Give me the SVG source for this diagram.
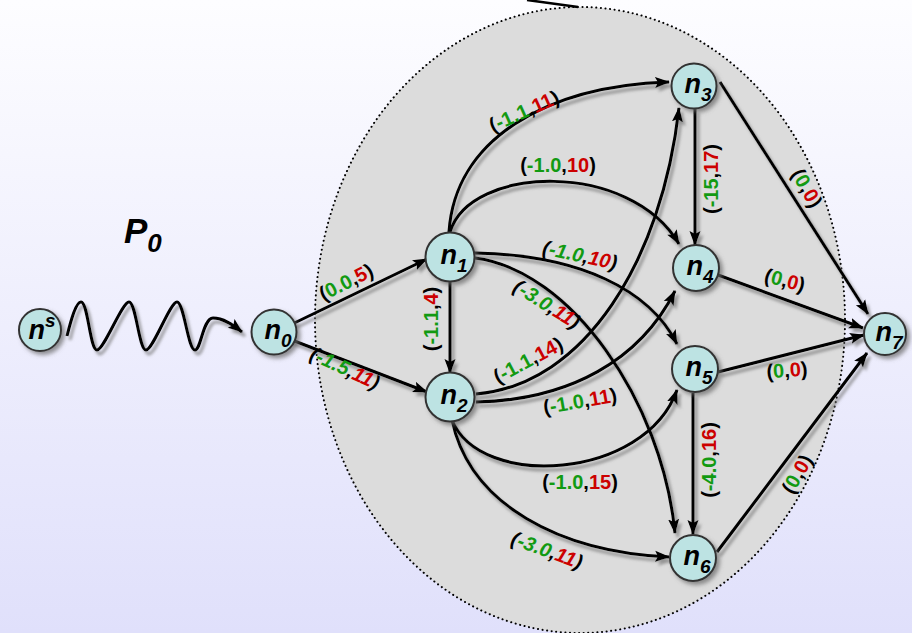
<svg xmlns="http://www.w3.org/2000/svg" width="912" height="633" viewBox="0 0 912 633">
<defs>
<linearGradient id="bg" x1="0" y1="0" x2="0" y2="1">
<stop offset="0" stop-color="#fdfdff"/>
<stop offset="1" stop-color="#e0e0fb"/>
</linearGradient>
<marker id="arr" markerUnits="userSpaceOnUse" markerWidth="16" markerHeight="12" refX="14" refY="6" orient="auto">
<path d="M0,0.5 L15,6 L0,11.5 L3,6 z" fill="#000"/>
</marker>
<filter id="sh" x="-20%" y="-20%" width="140%" height="140%">
<feDropShadow dx="3" dy="4" stdDeviation="1.5" flood-color="#777" flood-opacity="0.7"/>
</filter>
<filter id="nsh" x="-30%" y="-30%" width="160%" height="160%">
<feDropShadow dx="3" dy="3" stdDeviation="2" flood-color="#666" flood-opacity="0.7"/>
</filter>
</defs>
<style>
.node circle{fill:#bde3e3;stroke:#333;stroke-width:2;filter:url(#nsh)}
.node text{font-family:"Liberation Sans",Arial,sans-serif;font-weight:bold;font-style:italic;font-size:27px;fill:#000;text-anchor:middle}
.node .sub{font-size:19px}
.e{fill:none;stroke:#000;stroke-width:3;marker-end:url(#arr)}
.lbl{font-family:"Liberation Sans",Arial,sans-serif;font-weight:bold;font-size:20px;fill:#000;text-anchor:middle}
.it{font-style:italic}
.g{fill:#129a12}
.r{fill:#cc0000}
</style>
<rect x="0" y="0" width="912" height="633" fill="url(#bg)"/>
<ellipse cx="580" cy="320" rx="265" ry="313" fill="#dcdcdc" stroke="#000" stroke-width="2" stroke-dasharray="0.1 4.5" stroke-linecap="round"/>
<line x1="527" y1="0" x2="578" y2="7" stroke="#000" stroke-width="2.5"/>
<text x="124" y="243" font-family="Liberation Sans, Arial, sans-serif" font-weight="bold" font-style="italic" font-size="35">P<tspan font-size="26" dy="9">0</tspan></text>
<g id="connectors">
<g filter="url(#sh)">
<path class="e" d="M67,336 C71,320 76,302 81,302 C88,302 90,350 97,350 C104,350 122,302 129,302 C136,302 139,350 146,350 C153,350 170,302 177,302 C184,302 188,350 195,350 C201,350 203,318 213,318 C223,318 232,324 242,332" stroke-width="2.3"/>
<path class="e" d="M284,328 L427,259" stroke-width="3.6"/>
<path class="e" d="M284,337 L427,392" stroke-width="3.6"/>
<path class="e" d="M450,282 L450,373" stroke-width="2.3"/>
<path class="e" d="M449,232 C455,140 545,86 669,82" stroke-width="3.4"/>
<path class="e" d="M450,232 C470,165 630,160 679,244"/>
<path class="e" d="M475,253 C580,255 650,290 677,344"/>
<path class="e" d="M475,258 C570,270 662,400 675,533" stroke-width="2.6"/>
<path class="e" d="M476,394 C585,385 662,260 679,108" stroke-width="3.2"/>
<path class="e" d="M476,402 C570,400 640,360 675,291"/>
<path class="e" d="M452,420 C480,490 645,480 677,390"/>
<path class="e" d="M452,420 C470,505 560,552 669,557" stroke-width="3.2"/>
<path class="e" d="M695,109 L695,245"/>
<path class="e" d="M720,82 L868,314"/>
<path class="e" d="M718,275 L863,328" stroke-width="3.4"/>
<path class="e" d="M718,372 L864,335" stroke-width="3.2"/>
<path class="e" d="M693,393 L693,534" stroke-width="2.3"/>
<path class="e" d="M717,552 L867,353" stroke-width="3.2"/>
</g>
<g id="edge-labels">
<text class="lbl" transform="translate(346,282) rotate(-27)" y="7">(<tspan class="g">0.0</tspan>,<tspan class="r">5</tspan>)</text>
<text class="lbl it" transform="translate(345,368) rotate(25)" y="7">(<tspan class="g">-1.5</tspan>,<tspan class="r">11</tspan>)</text>
<text class="lbl" transform="translate(431,319) rotate(-90)" y="7">(<tspan class="g">-1.1</tspan>,<tspan class="r">4</tspan>)</text>
<text class="lbl" transform="translate(524,111) rotate(-24)" y="7">(<tspan class="g">-1.1</tspan>,<tspan class="r">11</tspan>)</text>
<text class="lbl" transform="translate(558,165)" y="7">(<tspan class="g">-1.0</tspan>,<tspan class="r">10</tspan>)</text>
<text class="lbl it" transform="translate(580,255) rotate(12)" y="7">(<tspan class="g">-1.0</tspan>,<tspan class="r">10</tspan>)</text>
<text class="lbl it" transform="translate(547,304) rotate(32)" y="7">(<tspan class="g">-3.0</tspan>,<tspan class="r">11</tspan>)</text>
<text class="lbl" transform="translate(528,360) rotate(-28)" y="7">(<tspan class="g">-1.1</tspan>,<tspan class="r">14</tspan>)</text>
<text class="lbl" transform="translate(580,401) rotate(-10)" y="7">(<tspan class="g">-1.0</tspan>,<tspan class="r">11</tspan>)</text>
<text class="lbl" transform="translate(580,482)" y="7">(<tspan class="g">-1.0</tspan>,<tspan class="r">15</tspan>)</text>
<text class="lbl it" transform="translate(547,550) rotate(20)" y="7">(<tspan class="g">-3.0</tspan>,<tspan class="r">11</tspan>)</text>
<text class="lbl" transform="translate(711,179) rotate(-90)" y="7">(<tspan class="g">-15</tspan>,<tspan class="r">17</tspan>)</text>
<text class="lbl" transform="translate(709,460) rotate(-90)" y="7">(<tspan class="g">-4.0</tspan>,<tspan class="r">16</tspan>)</text>
<text class="lbl" transform="translate(807,188) rotate(60)" y="7">(<tspan class="g">0</tspan>,<tspan class="r">0</tspan>)</text>
<text class="lbl" transform="translate(785,280) rotate(15)" y="7">(<tspan class="g">0</tspan>,<tspan class="r">0</tspan>)</text>
<text class="lbl" transform="translate(787,370) rotate(-4)" y="7">(<tspan class="g">0</tspan>,<tspan class="r">0</tspan>)</text>
<text class="lbl" transform="translate(797,474) rotate(-60)" y="7">(<tspan class="g">0</tspan>,<tspan class="r">0</tspan>)</text>
</g>
</g>
<g id="ns" class="node"><circle cx="40" cy="330" r="21"/><text x="42" y="339">n<tspan class="sub" dy="-12">s</tspan></text></g>
<g id="n0" class="node"><circle cx="274" cy="332" r="22.5"/><text x="278" y="339">n<tspan class="sub" dy="8">0</tspan></text></g>
<g id="n1" class="node"><circle cx="450" cy="257" r="24.5"/><text x="454" y="264">n<tspan class="sub" dy="8">1</tspan></text></g>
<g id="n2" class="node"><circle cx="450" cy="397" r="24.5"/><text x="454" y="404">n<tspan class="sub" dy="8">2</tspan></text></g>
<g id="n3" class="node"><circle cx="694" cy="86" r="22.5"/><text x="698" y="93">n<tspan class="sub" dy="8">3</tspan></text></g>
<g id="n4" class="node"><circle cx="696" cy="268" r="23"/><text x="700" y="275">n<tspan class="sub" dy="8">4</tspan></text></g>
<g id="n5" class="node"><circle cx="695" cy="369" r="23"/><text x="699" y="376">n<tspan class="sub" dy="8">5</tspan></text></g>
<g id="n6" class="node"><circle cx="693" cy="558" r="23"/><text x="697" y="565">n<tspan class="sub" dy="8">6</tspan></text></g>
<g id="n7" class="node"><circle cx="885" cy="334" r="21"/><text x="889" y="341">n<tspan class="sub" dy="8">7</tspan></text></g>
</svg>
